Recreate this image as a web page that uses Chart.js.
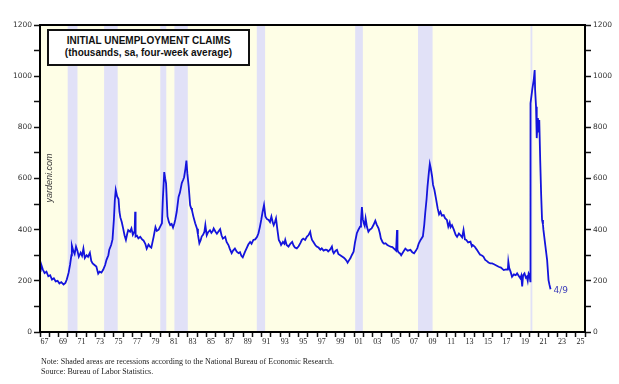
<!DOCTYPE html>
<html>
<head>
<meta charset="utf-8">
<script src="https://cdn.jsdelivr.net/npm/chart.js@4"></script>
<style>
  body { margin: 0; background: #fff; }
  #wrap { position: relative; width: 619px; height: 384px; }
  #titleBox {
    position: absolute; left: 47px; top: 29px; width: 199px; height: 29px;
    border: 2px solid #111; background: #fff;
    font: bold 10px "Liberation Sans", Arial, sans-serif; color: #111;
    text-align: center; line-height: 12px; padding-top: 4px; box-sizing: content-box;
  }
  #site {
    position: absolute; left: 19px; top: 173px; width: 60px; text-align: center;
    font: italic 9px "Liberation Sans", Arial, sans-serif; color: #333;
    transform: rotate(-90deg);
  }
  #notes {
    position: absolute; left: 41px; top: 357px;
    font: 8px "Liberation Serif", "Times New Roman", serif; color: #222; line-height: 10px;
  }
</style>
</head>
<body>
<div id="wrap">
  <canvas id="myChart" width="619" height="384"></canvas>
  <div id="titleBox">INITIAL UNEMPLOYMENT CLAIMS<br>(thousands, sa, four-week average)</div>
  <div id="site">yardeni.com</div>
  <div id="notes">Note: Shaded areas are recessions according to the National Bureau of Economic Research.<br>Source: Bureau of Labor Statistics.</div>
</div>
<script>
// dates as decimal years, claims in thousands
let dates = [
  1967.05,1967.15,1967.3,1967.5,1967.7,1967.9,1968.1,1968.3,1968.5,1968.7,1968.9,
  1969.1,1969.3,1969.55,1969.75,1969.9,1970.1,1970.25,1970.4,1970.45,1970.6,1970.75,1970.9,
  1971.05,1971.2,1971.4,1971.55,1971.7,1971.85,1972.05,1972.2,1972.4,1972.55,1972.7,1972.9,
  1973.1,1973.3,1973.45,1973.65,1973.85,1974.05,1974.2,1974.4,1974.5,1974.7,1974.85,
  1975.0,1975.1,1975.2,1975.35,1975.5,1975.6,1975.7,1975.85,1976.0,1976.15,1976.3,1976.45,
  1976.55,1976.75,1976.9,1977.05,1977.25,1977.3,1977.35,1977.5,1977.65,1977.85,1978.05,
  1978.2,1978.4,1978.55,1978.75,1978.9,1979.05,1979.3,1979.5,1979.65,1979.85,1980.05,1980.2,
  1980.3,1980.45,1980.55,1980.65,1980.8,1980.95,1981.1,1981.25,1981.4,1981.55,1981.65,1981.8,
  1982.0,1982.15,1982.35,1982.5,1982.6,1982.75,1982.85,1982.95,1983.1,1983.25,1983.35,1983.45,
  1983.6,1983.8,1984.0,1984.1,1984.25,1984.4,1984.5,1984.65,1984.8,1984.9,1985.05,1985.2,
  1985.4,1985.55,1985.7,1985.8,1986.0,1986.15,1986.3,1986.5,1986.65,1986.8,1987.05,1987.2,
  1987.4,1987.55,1987.75,1987.9,1988.1,1988.3,1988.5,1988.65,1988.8,1988.95,1989.1,1989.2,
  1989.4,1989.55,1989.75,1989.9,1990.1,1990.3,1990.5,1990.65,1990.8,1990.95,1991.1,1991.25,
  1991.4,1991.55,1991.75,1991.9,1992.05,1992.2,1992.3,1992.45,1992.55,1992.7,1992.85,1993.0,
  1993.1,1993.3,1993.45,1993.55,1993.7,1993.9,1994.1,1994.3,1994.45,1994.6,1994.8,1995.0,
  1995.2,1995.35,1995.5,1995.7,1995.9,1996.05,1996.25,1996.35,1996.45,1996.6,1996.8,1996.95,
  1997.15,1997.35,1997.5,1997.7,1997.9,1998.05,1998.2,1998.4,1998.6,1998.7,1998.8,1999.0,
  1999.15,1999.3,1999.5,1999.7,1999.9,2000.05,2000.2,2000.3,2000.45,2000.6,2000.75,2000.95,
  2001.1,2001.3,2001.45,2001.65,2001.75,2001.85,2001.95,2002.05,2002.15,2002.25,2002.4,2002.55,
  2002.7,2002.9,2003.1,2003.3,2003.45,2003.65,2003.8,2003.9,2004.1,2004.25,2004.4,2004.6,
  2004.8,2004.95,2005.15,2005.35,2005.55,2005.65,2005.7,2005.8,2006.0,2006.1,2006.3,2006.55,
  2006.8,2007.1,2007.3,2007.5,2007.7,2007.85,2008.0,2008.2,2008.45,2008.6,2008.7,2008.85,
  2008.95,2009.1,2009.2,2009.3,2009.45,2009.55,2009.7,2009.85,2010.05,2010.2,2010.35,2010.5,
  2010.7,2010.85,2011.05,2011.2,2011.35,2011.45,2011.6,2011.8,2012.0,2012.15,2012.35,2012.5,
  2012.7,2012.85,2013.0,2013.15,2013.35,2013.6,2013.75,2013.85,2014.05,2014.3,2014.5,2014.65,
  2014.8,2015.0,2015.2,2015.35,2015.55,2015.75,2015.95,2016.15,2016.4,2016.65,2016.9,2017.2,
  2017.45,2017.65,2017.7,2017.8,2017.95,2018.1,2018.3,2018.5,2018.65,2018.85,2019.0,2019.1,
  2019.2,2019.3,2019.45,2019.6,2019.7,2019.8,2019.9,2020.0,2020.08,2020.1,2020.3,2020.45,
  2020.55,2020.6,2020.7,2020.75,2020.8,2020.85,2020.9,2021.0,2021.05,2021.15,2021.25,2021.35,
  2021.45,2021.5,2021.7,2021.9,2022.05,2022.15,2022.27
];
let claims = [
  235,262,245,230,236,218,222,205,210,198,200,
  190,195,186,192,205,232,262,300,338,318,305,334,
  318,294,310,298,326,289,300,294,310,278,268,262,
  256,228,236,232,244,262,282,300,322,340,362,
  440,515,555,530,520,470,448,430,405,378,360,385,
  398,392,405,380,395,470,373,376,366,372,362,
  358,345,326,342,334,330,372,410,395,400,415,425,
  520,625,600,580,452,430,418,422,408,425,440,470,
  528,545,582,595,605,640,670,620,568,496,485,476,
  452,425,404,380,347,360,373,380,392,418,378,390,
  398,388,395,405,392,384,392,402,378,365,372,352,
  340,325,308,318,326,314,308,312,298,292,305,314,
  330,342,352,345,360,362,372,386,410,438,470,496,
  452,442,438,430,451,428,418,432,444,400,360,350,
  340,352,345,360,340,334,345,352,338,330,327,335,
  348,360,365,360,373,378,392,372,360,352,340,334,
  330,322,327,318,322,321,315,322,334,315,308,318,
  321,305,300,295,290,285,278,271,280,288,300,314,
  350,386,398,412,435,488,440,425,415,444,410,392,
  400,405,418,435,420,405,385,366,350,345,347,340,
  336,334,332,325,318,399,320,312,306,300,312,326,
  318,321,312,308,318,328,346,360,374,420,464,520,
  568,625,657,640,607,575,555,525,483,460,470,455,
  457,445,438,412,428,410,418,400,380,372,385,379,
  370,399,362,360,350,353,335,340,334,321,310,302,
  300,295,282,278,272,268,268,265,260,255,252,242,
  245,244,275,250,235,216,225,222,229,218,210,220,
  178,222,229,212,216,200,229,222,198,894,950,985,
  1024,946,880,856,758,810,836,780,829,672,540,438,
  420,399,340,281,203,185,167
];
// recession periods [start, end]
let recStart = [1970.0, 1973.94, 1980.02, 1981.55, 1990.47, 2001.12, 2007.92, 2020.1];
let recEnd   = [1971.06, 1975.41, 1980.67, 1983.0, 1991.37, 2001.95, 2009.5, 2020.3];
let yTicks = [0, 200, 400, 600, 800, 1000, 1200];
let lastLabel = '4/9';

let points = dates.map((d, i) => ({ x: d, y: claims[i] }));

const decor = {
  id: 'decor',
  beforeDatasetsDraw(chart) {
    const { ctx, chartArea: a, scales } = chart;
    ctx.save();
    ctx.fillStyle = '#fefee6';
    ctx.fillRect(a.left, a.top, a.right - a.left, a.bottom - a.top);
    ctx.fillStyle = '#e1e1f7';
    recStart.forEach((s, i) => {
      const x1 = scales.x.getPixelForValue(s), x2 = scales.x.getPixelForValue(recEnd[i]);
      ctx.fillRect(x1, a.top, x2 - x1, a.bottom - a.top);
    });
    ctx.restore();
  },
  afterDatasetsDraw(chart) {
    const { ctx, chartArea: a, scales } = chart;
    ctx.save();
    ctx.strokeStyle = '#000';
    ctx.lineWidth = 2;
    ctx.strokeRect(a.left, a.top, a.right - a.left, a.bottom - a.top);
    const n = dates.length - 1;
    const px = scales.x.getPixelForValue(dates[n]), py = scales.y.getPixelForValue(claims[n]);
    ctx.fillStyle = '#3a3ab8';
    ctx.font = '9px "DejaVu Sans", sans-serif';
    ctx.textBaseline = 'middle';
    ctx.fillText(lastLabel, px + 3, py + 1);
    ctx.restore();
  }
};

function yAxis(pos, w) {
  return {
    type: 'linear', position: pos, min: 0, max: 1200,
    afterFit(scale) { scale.width = w; },
    border: { display: false },
    grid: { drawOnChartArea: false, drawTicks: true, tickLength: 6, tickColor: '#111', tickWidth: 1.5 },
    ticks: {
      stepSize: 100, padding: 2, color: '#333',
      font: { family: 'DejaVu Sans', size: 7.5 },
      callback: v => yTicks.includes(v) ? v : ''
    }
  };
}

new Chart(document.getElementById('myChart'), {
  type: 'line',
  data: {
    datasets: [{
      data: points,
      borderColor: '#1414dc',
      borderWidth: 1.8,
      pointRadius: 0,
      tension: 0,
      fill: false
    }]
  },
  options: {
    responsive: false,
    animation: false,
    layout: { padding: { top: 25, left: 0, right: 0, bottom: 0 } },
    plugins: { legend: { display: false }, tooltip: { enabled: false } },
    scales: {
      x: {
        type: 'linear', min: 1967, max: 2026,
        afterFit(scale) { scale.height = 52; },
        afterBuildTicks(scale) {
          let t = [];
          for (let y = 1967; y <= 2026; y++) {
            t.push({ value: y });
            if (y % 2 === 1 && y < 2026) t.push({ value: y + 0.5 });
          }
          scale.ticks = t;
        },
        border: { display: false },
        grid: {
          drawOnChartArea: false, drawTicks: true, tickLength: 5, tickWidth: 1.5,
          tickColor: c => (c.tick && c.tick.value % 1 === 0) ? '#111' : 'rgba(0,0,0,0)'
        },
        ticks: {
          autoSkip: false, maxRotation: 0, padding: 0, color: '#222',
          font: { family: 'Liberation Serif', size: 8 },
          callback: v => (v % 1 !== 0) ? String(Math.floor(v) % 100).padStart(2, '0') : ''
        }
      },
      y: yAxis('left', 40),
      y2: yAxis('right', 34)
    }
  },
  plugins: [decor]
});
</script>
</body>
</html>
